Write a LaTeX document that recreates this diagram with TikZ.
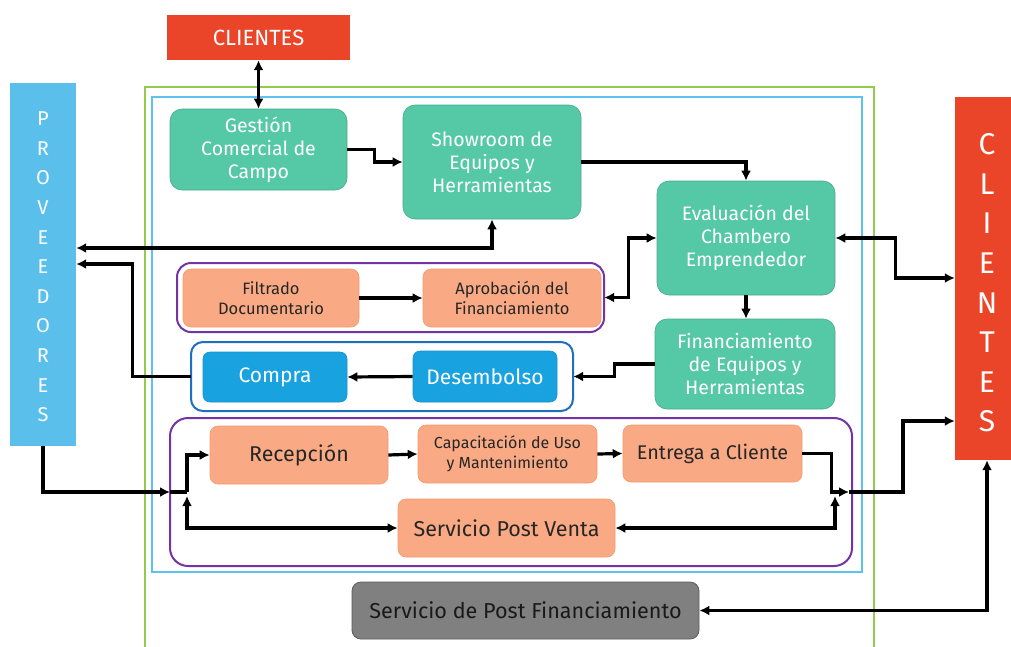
\documentclass[tikz,border=0pt]{standalone}
\usepackage{fontspec}
\setmainfont{Fira Sans}
\usetikzlibrary{arrows.meta}
\definecolor{tealc}{HTML}{55C8A5}
\definecolor{salmon}{HTML}{F9AA84}
\definecolor{salmonb}{HTML}{F39A6B}
\definecolor{bluec}{HTML}{18A2E0}
\definecolor{provc}{HTML}{5BBFEB}
\definecolor{redc}{HTML}{EA4529}
\definecolor{grayc}{HTML}{808080}
\definecolor{purplec}{HTML}{7434A6}
\definecolor{frameblue}{HTML}{1F6FC0}
\definecolor{lightblue}{HTML}{5EC2EE}
\definecolor{greenc}{HTML}{92CD4A}
\begin{document}
\begin{tikzpicture}[x=1pt,y=-1pt,
  tbox/.style={fill=tealc,draw=tealc!85!black,line width=0.6pt,rounded corners=12pt,inner sep=0pt,text=white,align=center,font=\fontsize{19.5}{23}\selectfont},
  sbox/.style={fill=salmon,draw=salmonb,line width=0.6pt,rounded corners=8pt,inner sep=0pt,text=black!85,align=center},
  bbox/.style={fill=bluec,draw=bluec!90!black,line width=0.6pt,rounded corners=7pt,inner sep=0pt,text=white,align=center,font=\fontsize{21}{22}\selectfont},
  rbox/.style={fill=redc,inner sep=0pt,text=white,align=center},
  frame/.style={line width=2pt,rounded corners=14pt},
  arr/.style={line width=3.2pt,-{Latex[length=10pt,width=10pt]}},
  dbl/.style={line width=3.2pt,{Latex[length=10pt,width=10pt]}-{Latex[length=10pt,width=10pt]}},
  ln/.style={line width=3.2pt}
]
\useasboundingbox (0,0) rectangle (1011,646);
\fill[white] (0,0) rectangle (1011,646);

% outer frames
\draw[greenc,line width=2pt] (145,650) -- (145,87) -- (874,87) -- (874,650);
\draw[lightblue,line width=2pt] (152,97) rectangle (862,572);

% side bars
\node[fill=provc,inner sep=0pt,minimum width=66pt,minimum height=363pt] (prov) at (43,264.5) {};
\node[text=white,align=center,font=\fontsize{20}{29.6}\selectfont] (provt) at (43,267) {P\\R\\O\\V\\E\\E\\D\\O\\R\\E\\S};
\node[rbox,minimum width=64pt,minimum height=363pt] (clr) at (987,278.5) {};
\node[text=white,align=center,font=\fontsize{30}{39.6}\selectfont] (clrt) at (987,283) {C\\L\\I\\E\\N\\T\\E\\S};
\node[rbox,minimum width=183pt,minimum height=45pt,font=\fontsize{22}{24}\selectfont] (clt) at (258.5,37.5) {CLIENTES};

% group frames
\draw[purplec,frame] (177,263) rectangle (604,332);
\node[inner sep=0pt,minimum width=427pt,minimum height=69pt] (p1) at (390.5,297.5) {};
\draw[frameblue,frame,rounded corners=12pt] (191,342) rectangle (573,411);
\node[inner sep=0pt,minimum width=382pt,minimum height=69pt] (bb) at (382,376.5) {};
\draw[purplec,frame,rounded corners=18pt] (170,418) rectangle (852,566);

% teal boxes
\node[tbox,minimum width=177pt,minimum height=81pt] (gest) at (258.5,149.5) {Gestión\\Comercial de\\Campo};
\node[tbox,minimum width=178pt,minimum height=114pt] (show) at (492,162) {Showroom de\\Equipos y\\Herramientas};
\node[tbox,minimum width=178pt,minimum height=114pt] (eval) at (746,238) {Evaluación del\\Chambero\\Emprendedor};
\node[tbox,minimum width=180pt,minimum height=90pt] (fin) at (745,364) {Financiamiento\\de Equipos y\\Herramientas};

% salmon boxes
\node[sbox,minimum width=176pt,minimum height=58pt,font=\fontsize{16.5}{20}\selectfont] (filt) at (271,298) {Filtrado\\Documentario};
\node[sbox,minimum width=178pt,minimum height=58pt,font=\fontsize{16.5}{20}\selectfont] (apro) at (512,298) {Aprobación del\\Financiamiento};
\node[sbox,minimum width=178pt,minimum height=58pt,font=\fontsize{21.4}{22}\selectfont] (rec) at (299,455) {Recepción};
\node[sbox,minimum width=179pt,minimum height=58pt,font=\fontsize{16}{20}\selectfont] (cap) at (507.5,454) {Capacitación de Uso\\y Mantenimiento};
\node[sbox,minimum width=179pt,minimum height=57pt,font=\fontsize{19.8}{20}\selectfont] (ent) at (712.5,453.5) {Entrega a Cliente};
\node[sbox,minimum width=217pt,minimum height=58pt,font=\fontsize{21.5}{22}\selectfont] (spv) at (506.5,528) {Servicio Post Venta};

% blue boxes
\node[bbox,minimum width=144pt,minimum height=50pt] (comp) at (275,377) {Compra};
\node[bbox,minimum width=144pt,minimum height=51pt] (des) at (485,376.5) {Desembolso};

% gray box
\node[fill=grayc,draw=grayc!70!black,line width=0.8pt,rounded corners=9pt,inner sep=0pt,minimum width=347pt,minimum height=57pt,text=black!90,font=\fontsize{21.6}{22}\selectfont] (spf) at (525.5,610.5) {Servicio de Post Financiamiento};

% helper coordinates
\coordinate (ja) at (170,492);
\coordinate (j1) at (187,492);
\coordinate (j1b) at (187,496);
\coordinate (k1) at (849,492);
\coordinate (k2) at (835,496);

% connectors
\draw[dbl] (clt.south) -- (gest.north);
\draw[arr] (gest.east) -- ++(27,0) |- (show.west);
\draw[arr] (show.east) -| (eval.north);
\draw[dbl] (prov.east |- 0,248) -| (show.south);
\draw[dbl] (eval.west) -- ++(-28,0) |- (p1.east);
\draw[dbl] (eval.east) -- ++(60,0) |- (clr.west |- 0,278);
\draw[arr] (eval.south) -- (eval.south |- fin.north);
\draw[arr] (filt.east) -- (apro.west);
\draw[arr] (fin.west) -- ++(-40,0) |- (bb.east);
\draw[arr] (des.west) -- (comp.east);
\draw[arr] (bb.west) -- ++(-58,0) |- (prov.east |- 0,264);
\draw[arr] (prov.south) |- (ja);
\draw[ln] (ja) -- (j1);
\draw[arr] (j1) |- (rec.west);
\draw[dbl] (j1b) |- (spv.west);
\draw[arr] (rec.east) -- (cap.west);
\draw[arr] (cap.east) -- (ent.west);
\draw[arr] (ent.east) -- ++(29,0) |- (k1);
\draw[arr] (k1) -- (903,492) |- (clr.west |- 0,421);
\draw[dbl] (spv.east) -| (k2);
\draw[dbl] (spf.east) -| (clr.south);
\end{tikzpicture}
\end{document}
